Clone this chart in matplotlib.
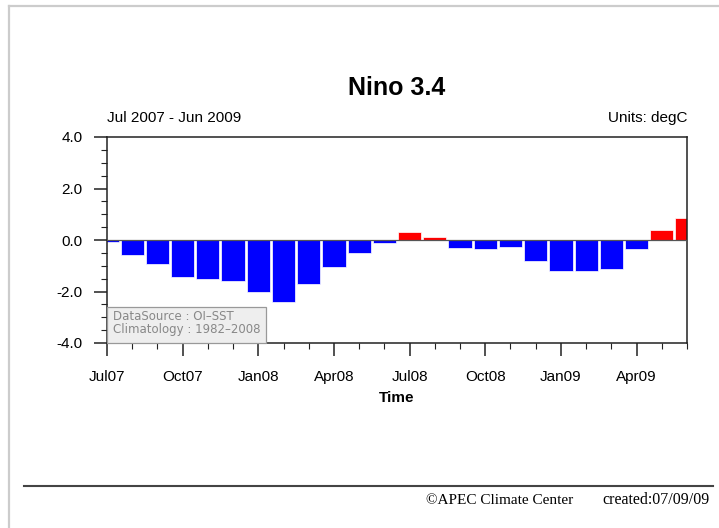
import matplotlib
matplotlib.use("Agg")
import matplotlib.pyplot as plt
from matplotlib.lines import Line2D
from matplotlib.patches import Rectangle
from matplotlib.ticker import MultipleLocator

months = ["Jul07", "Aug07", "Sep07", "Oct07", "Nov07", "Dec07",
          "Jan08", "Feb08", "Mar08", "Apr08", "May08", "Jun08",
          "Jul08", "Aug08", "Sep08", "Oct08", "Nov08", "Dec08",
          "Jan09", "Feb09", "Mar09", "Apr09", "May09", "Jun09"]
anomaly = [-0.08, -0.58, -0.95, -1.45, -1.52, -1.61,
           -2.03, -2.39, -1.72, -1.05, -0.49, -0.10,
           0.32, 0.10, -0.30, -0.35, -0.28, -0.83,
           -1.20, -1.19, -1.12, -0.36, 0.37, 0.85]
tick_labels = ["Jul07", "Oct07", "Jan08", "Apr08", "Jul08", "Oct08", "Jan09", "Apr09"]
ytick_vals = [-4.0, -2.0, 0.0, 2.0, 4.0]

W, H = 719, 528
fig = plt.figure(figsize=(W / 100, H / 100), dpi=100)
font = ["Liberation Sans", "DejaVu Sans"]
serif = ["Liberation Serif", "DejaVu Serif"]

L, R, T, B = 107, 687, 137, 343
ax = fig.add_axes([L / W, 1 - B / H, (R - L) / W, (B - T) / H])

x = list(range(len(months)))
colors = ["#ff0000" if v > 0 else "#0000ff" for v in anomaly]
ax.bar(x, anomaly, width=0.92, color=colors, edgecolor="#ffffff", linewidth=0.5, zorder=2)
ax.axhline(0, color="#555555", lw=0.9, zorder=3)

ax.set_xlim(0, len(months) - 1)
ax.set_ylim(-4, 4)
major_pos = [months.index(m) for m in tick_labels]
ax.set_xticks(major_pos)
ax.set_xticklabels(tick_labels, fontsize=11, family=font)
ax.xaxis.set_minor_locator(MultipleLocator(1))
ax.set_yticks(ytick_vals)
ax.set_yticklabels([f"{v:.1f}" for v in ytick_vals], fontsize=11, family=font)
ax.yaxis.set_minor_locator(MultipleLocator(0.5))
ax.tick_params(axis="both", which="major", direction="out", length=9.5, width=1.1, color="#222222")
ax.tick_params(axis="both", which="minor", direction="out", length=4, width=0.8, color="#222222")
ax.tick_params(axis="x", which="major", pad=10)
ax.tick_params(axis="y", which="major", pad=8)
for s in ax.spines.values():
    s.set_linewidth(1.1)
    s.set_color("#222222")

# info box
ax.add_patch(Rectangle((0, 0), (266 - L) / (R - L), (B - 307) / (B - T), transform=ax.transAxes,
                       facecolor="#eeeeee", edgecolor="#999999", lw=0.9, zorder=4, clip_on=False))
ax.text(0.011, (B - 317) / (B - T), "DataSource : OI\u2013SST", transform=ax.transAxes,
        fontsize=8.5, color="#888888", va="center", ha="left", zorder=5, family="DejaVu Sans")
ax.text(0.011, (B - 330) / (B - T), "Climatology : 1982\u20132008", transform=ax.transAxes,
        fontsize=8.5, color="#888888", va="center", ha="left", zorder=5, family="DejaVu Sans")

fig.text(397 / W, 1 - 88 / H, "Nino 3.4", fontsize=18, fontweight="bold", ha="center", va="center", family=font)
fig.text(L / W, 1 - 118 / H, "Jul 2007 - Jun 2009", fontsize=11, ha="left", va="center", family=font)
fig.text(R / W, 1 - 118 / H, "Units: degC", fontsize=11, ha="right", va="center", family=font)
fig.text(397 / W, 1 - 398 / H, "Time", fontsize=11, fontweight="bold", ha="center", va="center", family=font)

# frame lines
fig.add_artist(Line2D([9 / W, 1], [1 - 5.5 / H, 1 - 5.5 / H], color="#cccccc", lw=1.6, transform=fig.transFigure))
fig.add_artist(Line2D([9 / W, 9 / W], [0, 1 - 5.5 / H], color="#cccccc", lw=1.6, transform=fig.transFigure))
fig.add_artist(Line2D([24 / W, 713 / W], [1 - 485.5 / H, 1 - 485.5 / H], color="#444444", lw=1.5, transform=fig.transFigure))

fig.text(573 / W, 1 - 500 / H, "\u00a9APEC Climate Center", fontsize=11, ha="right", va="center", family=serif)
fig.text(710 / W, 1 - 500 / H, "created:07/09/09", fontsize=11.5, ha="right", va="center", family=serif)

fig.savefig("out.png", dpi=100)
